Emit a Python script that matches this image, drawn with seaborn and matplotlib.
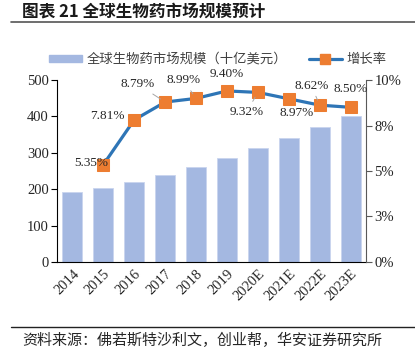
import matplotlib
matplotlib.use("Agg")
import matplotlib.pyplot as plt
import seaborn as sns
import pandas as pd
import numpy as np
from matplotlib.lines import Line2D
from matplotlib.patches import Patch

years = ["2014", "2015", "2016", "2017", "2018", "2019", "2020E", "2021E", "2022E", "2023E"]
market = [192, 203, 220, 239, 261, 285, 313, 341, 371, 401]
growth = [None, 5.35, 7.81, 8.79, 8.99, 9.40, 9.32, 8.97, 8.62, 8.50]
label_offsets = [None, (-9, 1), (-19, 3), (-20, 13), (-9, 13), (0, 12.5), (-8, -14), (6, -10), (-6, 14), (0, 13)]
leader = [False, False, False, True, True, False, True, False, True, False]
left_ticks = [0, 100, 200, 300, 400, 500]
right_ticks = [0, 2.5, 5, 7.5, 10]
right_labels = ["0%", "3%", "5%", "8%", "10%"]

title = "图表 21 全球生物药市场规模预计"
source = "资料来源：佛若斯特沙利文，创业帮，华安证券研究所"
bar_name = "全球生物药市场规模（十亿美元）"
line_name = "增长率"

sns.set_style("white")
plt.rcParams['font.family'] = ['Liberation Serif', 'Noto Sans CJK SC']
CJK = ['Noto Sans CJK SC', 'DejaVu Sans']

df = pd.DataFrame({"year": years, "market": market, "growth": growth})
df["pos"] = np.arange(len(df))

BAR = "#A4B8E1"
LINE = "#2E75B6"
MARK = "#ED7D31"

fig = plt.figure(figsize=(4.15, 3.51), dpi=100)
ax = fig.add_axes([0.1373, 0.2536, 0.7447, 0.5184])

sns.barplot(data=df, x="year", y="market", color=BAR, width=0.65, ax=ax,
            saturation=1, edgecolor="#C9D5EE", linewidth=0.6)
ax.set_xlim(-0.5, len(years) - 0.5)
ax.set_ylim(0, 500)
ax.set_yticks(left_ticks)
ax.set_xlabel("")
ax.set_ylabel("")
ax.set_xticks(list(np.arange(len(years)) - 0.5) + [len(years) - 0.5])
ax.set_xticklabels([])
ax.set_xticks(np.arange(len(years)), minor=True)
ax.set_xticklabels(years, minor=True, rotation=45, ha="right", rotation_mode="anchor", fontsize=10.5)
ax.tick_params(axis="x", which="minor", length=0, pad=4)
ax.tick_params(axis="x", which="major", direction="out", length=4, width=0.8, color="black")
ax.tick_params(axis="y", direction="out", length=4, width=0.8, color="black", labelsize=10.5, pad=2)
for s in ["top", "right"]:
    ax.spines[s].set_visible(False)
ax.spines["left"].set_color("black")
ax.spines["bottom"].set_color("black")
ax.spines["left"].set_linewidth(0.8)
ax.spines["bottom"].set_linewidth(0.8)

ax2 = ax.twinx()
dl = df.dropna(subset=["growth"])
sns.lineplot(data=dl, x="pos", y="growth", ax=ax2, color=LINE, linewidth=2.3,
             marker="s", markersize=8, markerfacecolor=MARK, markeredgecolor=MARK)
ax2.set_ylim(0, 10)
ax2.set_yticks(right_ticks)
ax2.set_yticklabels(right_labels)
ax2.set_xlabel("")
ax2.set_ylabel("")
ax2.set_xlim(-0.5, len(years) - 0.5)
ax2.tick_params(axis="y", direction="out", length=4, width=0.8, color="#595959", labelsize=10.5, pad=2)
for s in ["top", "left", "bottom"]:
    ax2.spines[s].set_visible(False)
ax2.spines["right"].set_color("#595959")
ax2.spines["right"].set_linewidth(0.8)

for i, (g, off, ld) in enumerate(zip(growth, label_offsets, leader)):
    if g is None:
        continue
    kw = {}
    if ld:
        kw["arrowprops"] = dict(arrowstyle="-", color="#A6A6A6", lw=0.7, shrinkA=1, shrinkB=4)
    ax2.annotate(f"{g:.2f}%", xy=(df["pos"][i], g), xytext=off, textcoords="offset points",
                 ha="center", va="center", fontsize=9.5, color="#262626", **kw)

handles = [Patch(facecolor=BAR, edgecolor=BAR),
           Line2D([0], [0], color=LINE, lw=2.3, marker="s", markersize=7,
                  markerfacecolor=MARK, markeredgecolor=MARK)]
leg = fig.legend(handles, [bar_name, line_name], loc="center", bbox_to_anchor=(0.525, 0.832),
                 ncol=2, frameon=False, prop={'family': CJK, 'size': 9.6},
                 handlelength=2.5, handleheight=0.45, columnspacing=1.6, handletextpad=0.35,
                 borderpad=0.1)
for t in leg.get_texts():
    t.set_color("#404040")

fig.text(0.053, 0.966, title, fontsize=12, fontweight="bold", family=CJK, va="center", ha="left", color="#1a1a1a")
fig.add_artist(Line2D([0.027, 1.0], [0.937, 0.937], color="#555555", lw=1.2))
fig.add_artist(Line2D([0.027, 1.0], [0.068, 0.068], color="#222222", lw=1.0))
fig.text(0.053, 0.031, source, fontsize=10.8, family=CJK, va="center", ha="left", color="#262626")

fig.savefig("out.png", dpi=100)
